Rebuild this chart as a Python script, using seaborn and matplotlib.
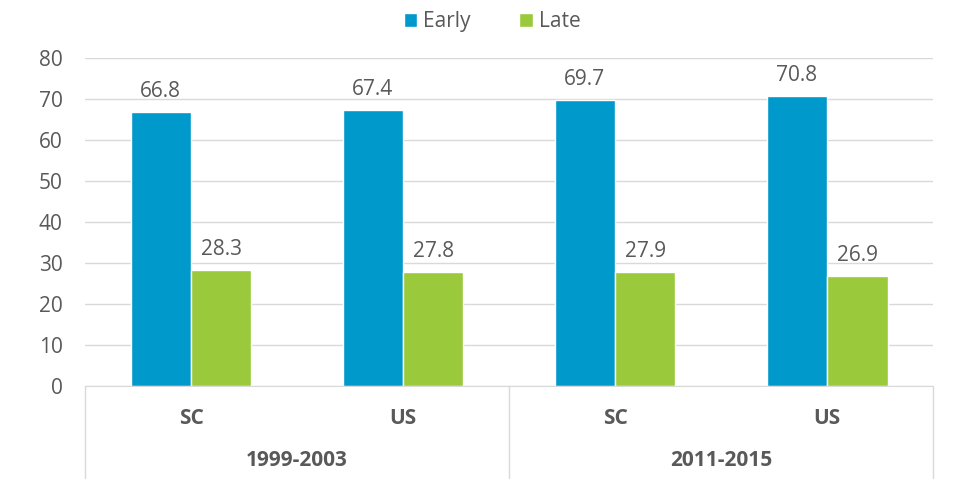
import pandas as pd
import seaborn as sns
import matplotlib.pyplot as plt

periods = ['1999-2003', '1999-2003', '2011-2015', '2011-2015']
regions = ['SC', 'US', 'SC', 'US']
early = [66.8, 67.4, 69.7, 70.8]
late = [28.3, 27.8, 27.9, 26.9]

sns.set_style('white')
plt.rcParams['font.family'] = ['Open Sans', 'DejaVu Sans']

grey = '#595959'
line_c = '#d9d9d9'
fs = 15

keys = [p + ' ' + r for p, r in zip(periods, regions)]
df = pd.DataFrame({'key': keys * 2,
                   'value': early + late,
                   'timing': ['Early'] * 4 + ['Late'] * 4})

fig = plt.figure(figsize=(9.54, 4.79), dpi=100)
ax = fig.add_axes([0.0891, 0.194, 0.889, 0.685])

sns.barplot(data=df, x='key', y='value', hue='timing', order=keys,
            palette={'Early': '#0099cc', 'Late': '#9aca3c'},
            width=0.57, saturation=1, ax=ax)

for cont in ax.containers:
    ax.bar_label(cont, fmt='%.1f', padding=7, fontsize=fs, color=grey)

ax.set_ylim(0, 80)
ax.set_yticks(range(0, 81, 10))
ax.yaxis.grid(True, color=line_c, linewidth=1)
ax.set_axisbelow(True)
ax.tick_params(axis='y', labelsize=fs, colors=grey, length=0, pad=16)
ax.tick_params(axis='x', length=0, pad=16)
ax.set_xticks(range(4))
ax.set_xticklabels(regions, fontsize=fs, fontweight='bold', color=grey)
ax.set_xlabel('')
ax.set_ylabel('')
for s in ['top', 'right', 'left']:
    ax.spines[s].set_visible(False)
ax.spines['bottom'].set_color(line_c)

# group separators and labels below the axis
for xv in [-0.5, 1.5, 3.5]:
    ax.plot([xv, xv], [0, -0.29], color=line_c, lw=1, clip_on=False,
            transform=ax.get_xaxis_transform())
for i, p in enumerate(['1999-2003', '2011-2015']):
    ax.text(2 * i + 0.5, -0.226, p, transform=ax.get_xaxis_transform(),
            ha='center', va='center', fontsize=fs, fontweight='bold', color=grey)
ax.set_xlim(-0.5, 3.5)

leg = ax.legend(loc='center', bbox_to_anchor=(0.48, 1.11), ncol=2,
                frameon=False, fontsize=fs, handlelength=0.63, handleheight=0.63,
                columnspacing=2.35, handletextpad=0.3)
for t in leg.get_texts():
    t.set_color(grey)

plt.savefig('out.png', dpi=100)
